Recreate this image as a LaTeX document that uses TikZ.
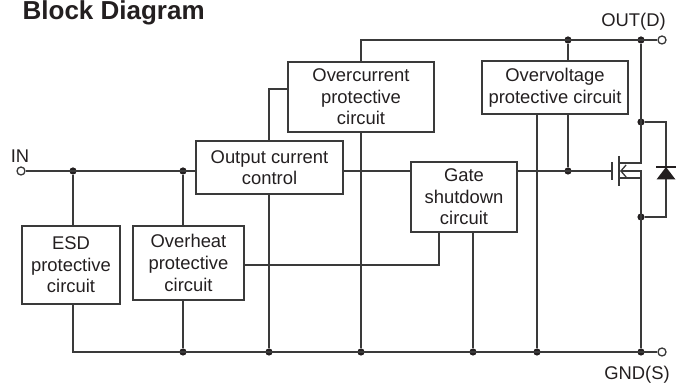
\documentclass[tikz,border=0pt]{standalone}
\usepackage{fontspec}
\setmainfont{Liberation Sans}
\usetikzlibrary{arrows.meta}
\definecolor{wire}{HTML}{3A3A3A}
\definecolor{ink}{HTML}{231F20}
\tikzset{
    x=0.5pt, y=-0.5pt,
    every node/.append style={
        text=ink
    },
    block/.style={
        draw=wire,
        line width=0.65pt,
        inner sep=0pt,
        align=center,
        font=\fontsize{9.2}{10.8}\selectfont
    },
    label text/.style={
        inner sep=0pt,
        anchor=base,
        font=\fontsize{9.2}{10.8}\selectfont
    },
    dot/.style={
        circle,
        fill=ink,
        inner sep=0pt,
        minimum size=3.6pt
    },
    terminal/.style={
        circle,
        draw=wire,
        fill=white,
        line width=0.65pt,
        inner sep=0pt,
        minimum size=4pt
    }
}

\begin{document}
\begin{tikzpicture}[color=wire, line width=0.65pt]
    \useasboundingbox (0,0) rectangle (684,383);
    \node[inner sep=0pt, anchor=base west, font=\bfseries\fontsize{13}{15}\selectfont] (title) at (22,19.5) {Block Diagram};

    \node[block, minimum width=49pt, minimum height=39pt] (esd) at (71,265) {ESD\\protective\\circuit};
    \node[block, minimum width=55.5pt, minimum height=37pt] (heat) at (188.5,263) {Overheat\\protective\\circuit};
    \node[block, minimum width=73.5pt, minimum height=26.5pt] (occ) at (269.5,167.5) {Output current\\control};
    \node[block, minimum width=73pt, minimum height=35pt] (ocp) at (361,97) {Overcurrent\\protective\\circuit};
    \node[block, minimum width=53pt, minimum height=35pt] (gate) at (464,197) {Gate\\shutdown\\circuit};
    \node[block, minimum width=73pt, minimum height=26.5pt] (ovp) at (555,87.5) {Overvoltage\\protective circuit};

    \node[terminal] (in) at (21,171) {};
    \node[terminal] (out) at (662,40) {};
    \node[terminal] (gnd) at (662,352) {};
    \node[label text] (lin) at (20,163) {IN};
    \node[label text] (lout) at (633.5,27) {OUT(D)};
    \node[label text] (lgnd) at (637,380) {GND(S)};

    \node[dot] (i1) at (73,171) {};
    \node[dot] (i2) at (183,171) {};
    \node[dot] (o1) at (568,40) {};
    \node[dot] (o2) at (641,40) {};
    \node[dot] (v1) at (568,171) {};
    \node[dot] (d1) at (641,122) {};
    \node[dot] (s1) at (641,217) {};
    \foreach \x in {183,269,361,473,537,641}
        \node[dot] (g\x) at (\x,352) {};

    \coordinate (k) at (269,89);
    \coordinate (h) at (439,265);
    \coordinate (mg) at (612,171);
    \coordinate (md) at (641,163);
    \coordinate (mb) at (641,171);
    \coordinate (ms) at (641,178);
    \coordinate (ka) at (666,122);
    \coordinate (kb) at (666,217);

    \draw (in) -- (in -| occ.west);
    \draw (occ.east |- in) -- (gate.west |- in);
    \draw (gate.east |- in) -- (mg);
    \draw (i1) -- (i1 |- esd.north);
    \draw (i2) -- (i2 |- heat.north);
    \draw (esd.south -| i1) -- (i1 |- gnd) -- (gnd);
    \draw (heat.south -| i2) -- (g183);
    \draw (occ.south -| g269) -- (g269);
    \draw (occ.north -| k) -- (k) -- (k -| ocp.west);
    \draw (ocp.south) -- (g361);
    \draw (ocp.north) -- (ocp.north |- out) -- (out);
    \draw (ovp.north -| o1) -- (o1);
    \draw (ovp.south -| v1) -- (v1);
    \draw (ovp.south -| g537) -- (g537);
    \draw (gate.south -| g473) -- (g473);
    \draw (gate.south -| h) -- (h) -- (h -| heat.east);

    \draw[line width=0.8pt] (612,162) -- (612,180);
    \draw[line width=0.8pt] (619,156) -- (619,186);
    \draw (619,163) -- (md) -- (o2);
    \draw[{Straight Barb[length=2.6pt, width=6pt]}-] (620,171) -- (mb) -- (g641);
    \draw (619,178) -- (ms);
    \draw (d1) -- (ka) -- (kb) -- (s1);
    \fill[ink] (666,167) -- (675.5,179.5) -- (656.5,179.5) -- cycle;
    \draw[ink, line width=1pt] (656,167) -- (676,167);
\end{tikzpicture}
\end{document}
